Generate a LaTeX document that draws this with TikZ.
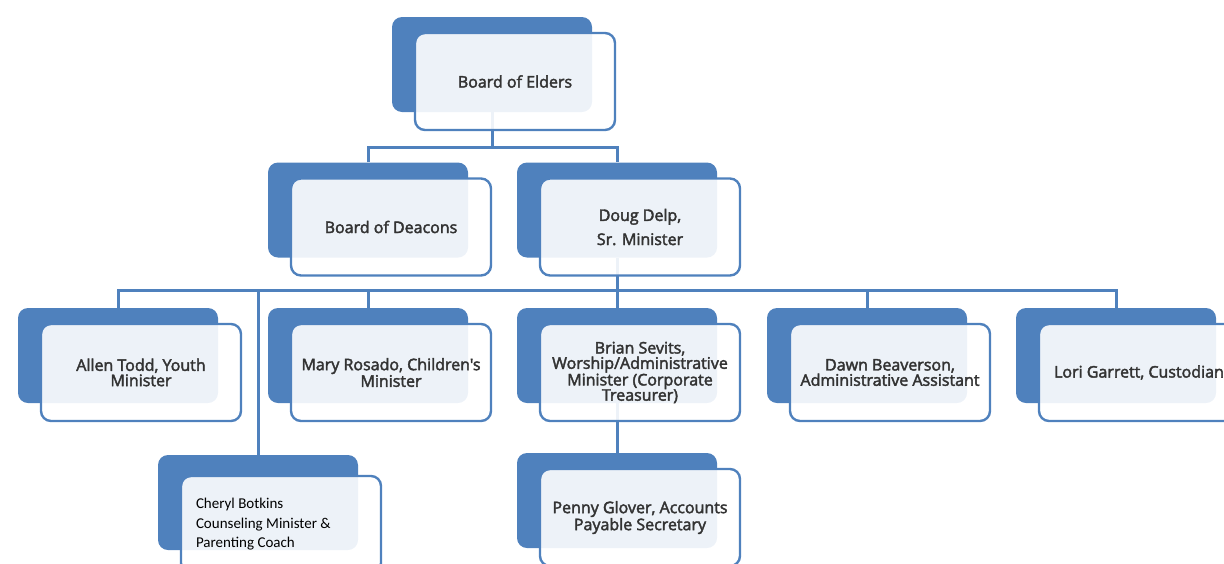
\documentclass[tikz,border=0pt]{standalone}
\usepackage{fontspec}
\newfontfamily\cardfont{Open Sans}[FakeBold=2.5]
\newfontfamily\notefont{Carlito}
\usepackage{xcolor}
\usetikzlibrary{calc,positioning}
\definecolor{boxblue}{HTML}{4F81BD}
\definecolor{ink}{HTML}{333333}
\newcommand{\tightsp}{\spaceskip=0pt\relax\xspaceskip=0pt\relax}
\tikzset{
  back/.style={fill=boxblue, draw=none, rounded corners=10pt, minimum width=200pt, minimum height=95pt, inner sep=0pt},
  front/.style={fill=white, fill opacity=0.9, text opacity=1, draw=boxblue, line width=2.4pt, rounded corners=10pt,
    minimum width=200pt, minimum height=97pt, inner sep=0pt, align=center, text=ink, font=\cardfont\fontsize{16}{15.3}\selectfont},
  note/.style={text width=170pt, align=left, text=black, font=\notefont\fontsize{15}{19.5}\selectfont},
  link/.style={draw=boxblue, line width=3pt},
}

\begin{document}
\begin{tikzpicture}[x=1pt,y=-1pt]
  \useasboundingbox (0,0) rectangle (1224,563);
  \clip (0,0) rectangle (1224,563);

  % back plates
  \node[back] (elders-b)  at (492,64.5)  {};
  \node[back] (deacons-b) at (368,210)   {};
  \node[back] (doug-b)    at (617,210)   {};
  \node[back] (allen-b)   at (118,355.5) {};
  \node[back] (mary-b)    at (368,355.5) {};
  \node[back] (brian-b)   at (617,355.5) {};
  \node[back] (dawn-b)    at (867,355.5) {};
  \node[back] (lori-b)    at (1116,355.5) {};
  \node[back] (cheryl-b)  at (258,502.5) {};
  \node[back] (penny-b)   at (617,500.5) {};

  % junctions
  \coordinate (j1) at ($(elders-b.south)+(0,35)$);
  \coordinate (j2) at ($(doug-b.south)+(0,33)$);

  % connectors
  \draw[link] (elders-b.south) -- (j1);
  \draw[link] (deacons-b.north) |- (j1) -| (doug-b.north);
  \draw[link] (doug-b.south) -- (j2);
  \draw[link] (allen-b.north) |- (j2) -| (lori-b.north);
  \draw[link] (mary-b.north) -- (mary-b.north |- j2);
  \draw[link] (brian-b.north) -- (brian-b.north |- j2);
  \draw[link] (dawn-b.north) -- (dawn-b.north |- j2);
  \draw[link] (cheryl-b.north) -- (cheryl-b.north |- j2);
  \draw[link] (brian-b.south) -- (penny-b.north);

  % front cards
  \node[front] (elders)  at ($(elders-b)+(23,17)$)  {\tightsp Board of Elders};
  \node[front] (deacons) at ($(deacons-b)+(23,17)$) {\tightsp Board of Deacons};
  \node[front] (doug)    at ($(doug-b)+(23,17)$)    {\tightsp Doug Delp,\\[7.5pt]Sr. Minister};
  \node[front] (allen)   at ($(allen-b)+(23,17)$)   {\tightsp Allen Todd, Youth\\Minister};
  \node[front] (mary)    at ($(mary-b)+(23,17)$)    {\tightsp Mary Rosado, Children's\\Minister};
  \node[front] (brian)   at ($(brian-b)+(23,17)$)   {\tightsp Brian Sevits,\\Worship/Administrative\\Minister (Corporate\\Treasurer)};
  \node[front] (dawn)    at ($(dawn-b)+(23,17)$)    {\tightsp Dawn Beaverson,\\Administrative Assistant};
  \node[front] (lori)    at ($(lori-b)+(23,17)$)    {\tightsp Lori Garrett, Custodian};
  \node[front] (penny)   at ($(penny-b)+(23,17)$)   {\tightsp Penny Glover, Accounts\\Payable Secretary};
  \node[front, note] (cheryl) at ($(cheryl-b)+(23,22)$) {\tightsp Cheryl Botkins\\Counseling Minister \&\\Parenting Coach};
\end{tikzpicture}
\end{document}
